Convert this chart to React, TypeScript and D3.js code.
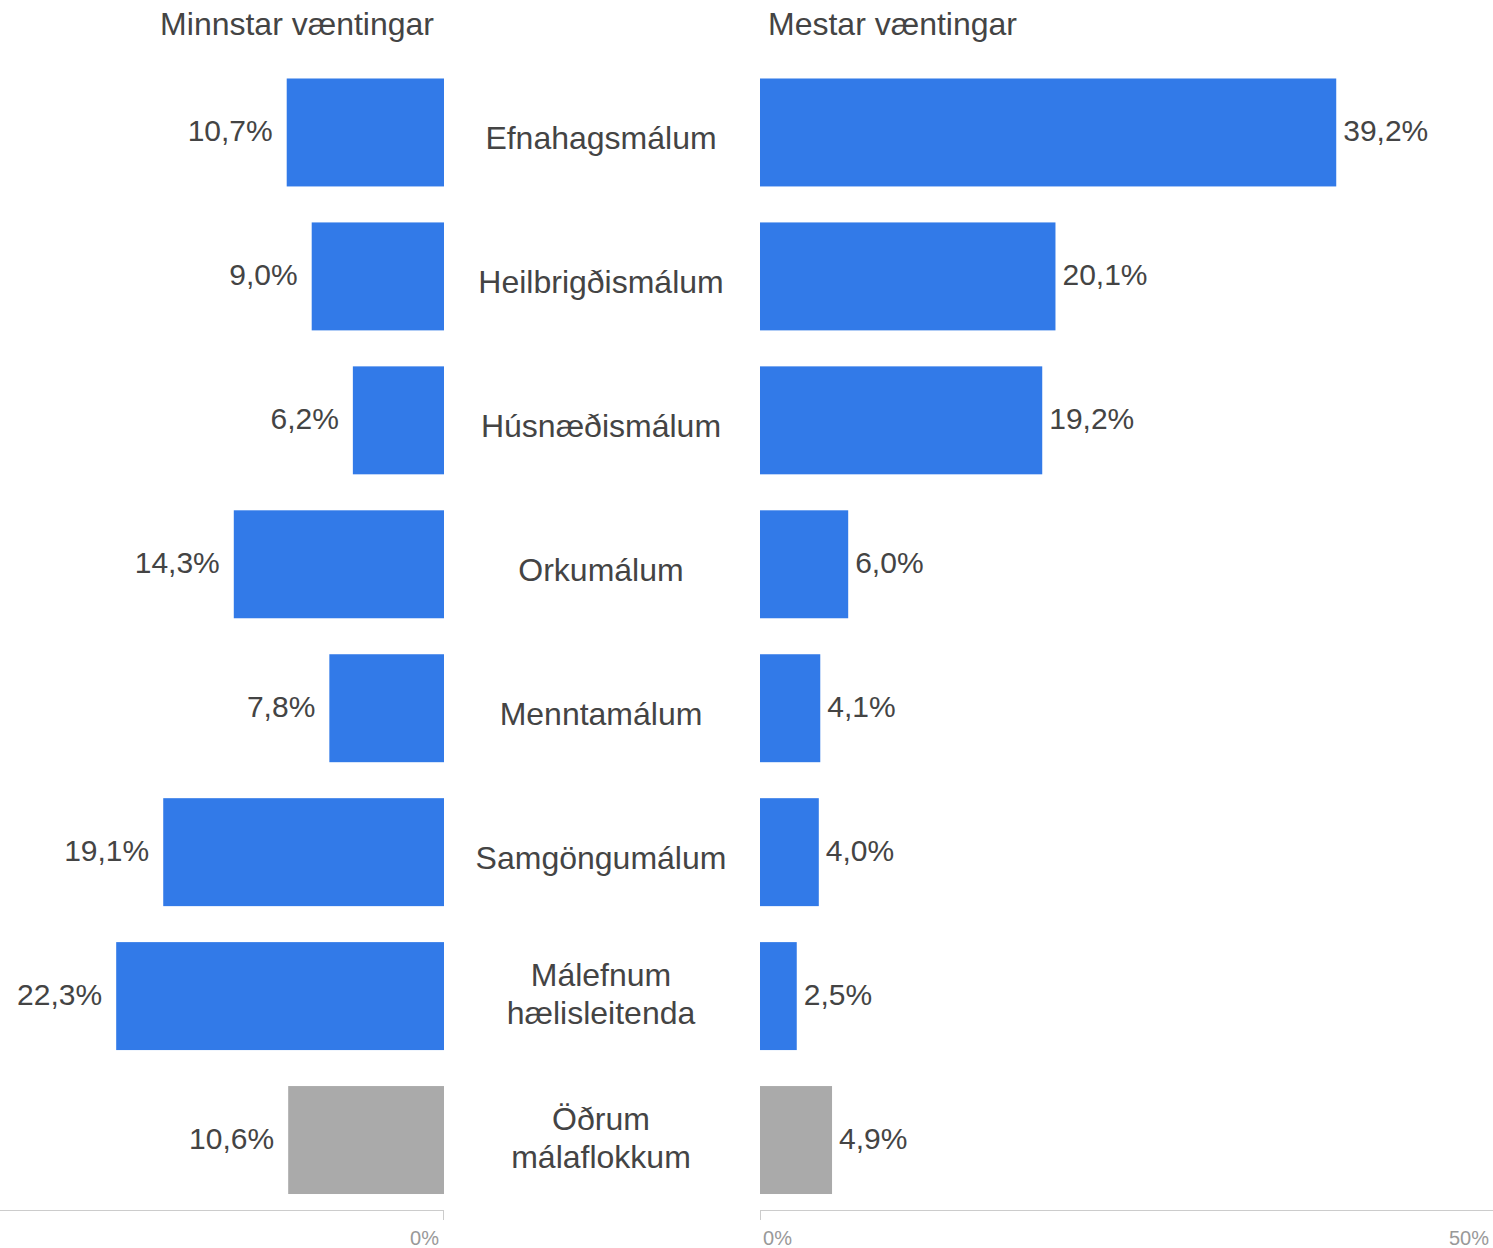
import React from 'react';
import * as d3 from 'd3';

const categories = [
  ['Efnahagsmálum'],
  ['Heilbrigðismálum'],
  ['Húsnæðismálum'],
  ['Orkumálum'],
  ['Menntamálum'],
  ['Samgöngumálum'],
  ['Málefnum', 'hælisleitenda'],
  ['Öðrum', 'málaflokkum'],
];
const leastExpectations = [10.7, 9.0, 6.2, 14.3, 7.8, 19.1, 22.3, 10.6];
const mostExpectations = [39.2, 20.1, 19.2, 6.0, 4.1, 4.0, 2.5, 4.9];
const isOther = [false, false, false, false, false, false, false, true];
const leftTitle = 'Minnstar væntingar';
const rightTitle = 'Mestar væntingar';
const rightTicks = [0, 50];
const leftTicks = [0];

const W = 1493;
const H = 1248;
const BLUE = '#327ae8';
const GREY = '#aaaaaa';
const TEXT = '#444444';
const FONT = 'Arial, "Liberation Sans", sans-serif';

const fmt = (v: number) => v.toFixed(1).replace('.', ',') + '%';

export default function App() {
  const keys = categories.map((c) => c.join(' '));

  const y = d3.scaleBand<string>()
    .domain(keys)
    .range([60.5, 1212])
    .paddingInner(36 / 144)
    .paddingOuter(36 / 288);

  // same pixels per percent on both sides
  const pxPerPct = 14.7;
  const xRight = d3.scaleLinear().domain([0, 50]).range([760, 760 + 50 * pxPerPct]);
  const xLeft = d3.scaleLinear().domain([0, 50]).range([444, 444 - 50 * pxPerPct]);

  const axisY = 1210;
  const midX = 601;

  return (
    <svg width={W} height={H} style={{ position: 'absolute', left: 0, top: 0 }} fontFamily={FONT}>
      <rect width={W} height={H} fill="#fff" />

      <text x={434} y={35} textAnchor="end" fontSize={32} fill={TEXT}>{leftTitle}</text>
      <text x={768} y={35} textAnchor="start" fontSize={32} fill={TEXT}>{rightTitle}</text>

      {keys.map((k, i) => {
        const y0 = y(k)!;
        const bh = y.bandwidth();
        const cy = y0 + bh / 2;
        const color = isOther[i] ? GREY : BLUE;
        const lv = leastExpectations[i];
        const rv = mostExpectations[i];
        const lines = categories[i];
        return (
          <g key={k}>
            <rect x={xLeft(lv)} y={y0} width={xLeft(0) - xLeft(lv)} height={bh} fill={color} />
            <text x={xLeft(lv) - 14} y={cy + 9} textAnchor="end" fontSize={30} fill={TEXT}>{fmt(lv)}</text>

            <rect x={xRight(0)} y={y0} width={xRight(rv) - xRight(0)} height={bh} fill={color} />
            <text x={xRight(rv) + 7} y={cy + 9} textAnchor="start" fontSize={30} fill={TEXT}>{fmt(rv)}</text>

            {lines.map((t, j) => (
              <text
                key={t}
                x={midX}
                y={cy + 17 + (j - (lines.length - 1) / 2) * 38 - (lines.length > 1 ? 8 : 0)}
                textAnchor="middle"
                fontSize={32}
                fill={TEXT}
              >
                {t}
              </text>
            ))}
          </g>
        );
      })}

      {/* axes */}
      <line x1={0} x2={xLeft(0)} y1={axisY + 0.5} y2={axisY + 0.5} stroke="#cccccc" />
      <line x1={xRight(0)} x2={W} y1={axisY + 0.5} y2={axisY + 0.5} stroke="#cccccc" />
      {leftTicks.map((t) => (
        <g key={'l' + t}>
          <line x1={xLeft(t) - 0.5} x2={xLeft(t) - 0.5} y1={axisY} y2={axisY + 10} stroke="#cccccc" />
          <text x={xLeft(t) - 5} y={1245} textAnchor="end" fontSize={20} fill="#999999">{t}%</text>
        </g>
      ))}
      {rightTicks.map((t, i) => (
        <g key={'r' + t}>
          <line x1={xRight(t) + 0.5} x2={xRight(t) + 0.5} y1={axisY} y2={axisY + 10} stroke="#cccccc" />
          <text
            x={i === 0 ? xRight(t) + 3 : W - 4}
            y={1245}
            textAnchor={i === 0 ? 'start' : 'end'}
            fontSize={20}
            fill="#999999"
          >
            {t}%
          </text>
        </g>
      ))}
    </svg>
  );
}
